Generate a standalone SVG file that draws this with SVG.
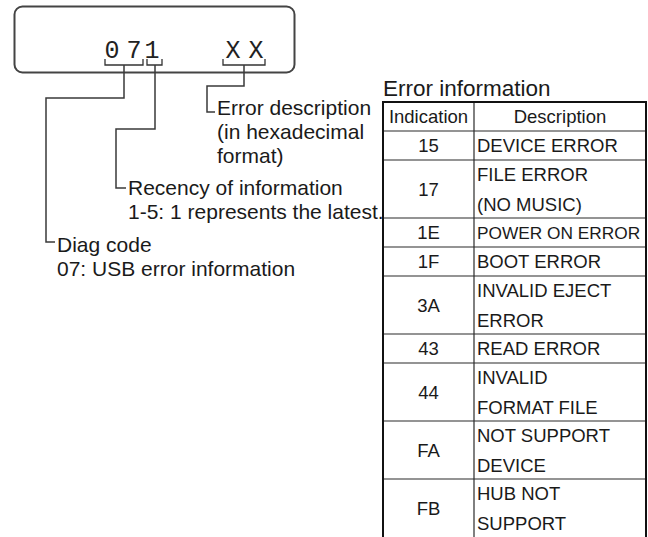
<svg xmlns="http://www.w3.org/2000/svg" width="648" height="537" viewBox="0 0 648 537">
<style>
.t{font-family:"Liberation Sans",Arial,sans-serif;font-size:21px;fill:#1a1a1a}
.tb{font-family:"Liberation Sans",Arial,sans-serif;font-size:18.5px;fill:#1a1a1a}
.c{text-anchor:middle}
.lcd{font-family:"Liberation Mono","DejaVu Sans Mono",monospace;font-size:25px;fill:#222;text-anchor:middle}
.ln{fill:none;stroke:#3a3a3a;stroke-width:1.5}
.br{fill:none;stroke:#333;stroke-width:1.3}
.grid{stroke:#2a2a2a;stroke-width:1.2}
.outer{stroke:#111;stroke-width:2;fill:none}
</style>
<rect width="648" height="537" fill="#fff"/>
<g id="display">
<rect x="14.5" y="6.5" width="280" height="66" rx="8" fill="#fff" stroke="#444" stroke-width="2"/>
<text class="lcd" x="112" y="58">0</text>
<text class="lcd" x="134" y="58">7</text>
<text class="lcd" x="152" y="58">1</text>
<text class="lcd" x="233" y="58">X</text>
<text class="lcd" x="256" y="58">X</text>
<path class="br" d="M105 59V65H143V59M147 59V65H162V59M223 59V65H265V59"/>
</g>
<g id="connectors">
<path class="ln" d="M124 65V98H46V242H55"/>
<path class="ln" d="M155 65V129H116V188H126"/>
<path class="ln" d="M244 65V86H207V112H215"/>
</g>
<g id="label-error-desc">
<text class="t" x="217" y="115">Error description</text>
<text class="t" x="217" y="139">(in hexadecimal</text>
<text class="t" x="217" y="163">format)</text>
</g>
<g id="label-recency">
<text class="t" x="128" y="195">Recency of information</text>
<text class="t" x="128" y="219">1-5: 1 represents the latest.</text>
</g>
<g id="label-diag">
<text class="t" x="57" y="252">Diag code</text>
<text class="t" x="57" y="276">07: USB error information</text>
</g>
<g id="error-table">
<text class="t" x="383" y="96" style="font-size:22.5px">Error information</text>
<g class="grid">
<line x1="383" y1="131" x2="646" y2="131"/>
<line x1="383" y1="160" x2="646" y2="160"/>
<line x1="383" y1="218" x2="646" y2="218"/>
<line x1="383" y1="247" x2="646" y2="247"/>
<line x1="383" y1="276" x2="646" y2="276"/>
<line x1="383" y1="334" x2="646" y2="334"/>
<line x1="383" y1="363" x2="646" y2="363"/>
<line x1="383" y1="421" x2="646" y2="421"/>
<line x1="383" y1="479" x2="646" y2="479"/>
<line x1="474" y1="102" x2="474" y2="537"/>
</g>
<path class="outer" d="M383 540V102H646V540"/>
<text class="tb c" x="428.5" y="123">Indication</text>
<text class="tb c" x="560" y="123">Description</text>
<text class="tb c" x="428.5" y="152">15</text>
<text class="tb" x="477" y="152">DEVICE ERROR</text>
<text class="tb c" x="428.5" y="196">17</text>
<text class="tb" x="477" y="181">FILE ERROR</text>
<text class="tb" x="477" y="211">(NO MUSIC)</text>
<text class="tb c" x="428.5" y="239">1E</text>
<text class="tb" x="477" y="239" style="font-size:17.3px">POWER ON ERROR</text>
<text class="tb c" x="428.5" y="268">1F</text>
<text class="tb" x="477" y="268">BOOT ERROR</text>
<text class="tb c" x="428.5" y="312">3A</text>
<text class="tb" x="477" y="297">INVALID EJECT</text>
<text class="tb" x="477" y="327">ERROR</text>
<text class="tb c" x="428.5" y="355">43</text>
<text class="tb" x="477" y="355">READ ERROR</text>
<text class="tb c" x="428.5" y="399">44</text>
<text class="tb" x="477" y="384">INVALID</text>
<text class="tb" x="477" y="414">FORMAT FILE</text>
<text class="tb c" x="428.5" y="457">FA</text>
<text class="tb" x="477" y="442">NOT SUPPORT</text>
<text class="tb" x="477" y="472">DEVICE</text>
<text class="tb c" x="428.5" y="515">FB</text>
<text class="tb" x="477" y="500">HUB NOT</text>
<text class="tb" x="477" y="530">SUPPORT</text>
</g>
</svg>
